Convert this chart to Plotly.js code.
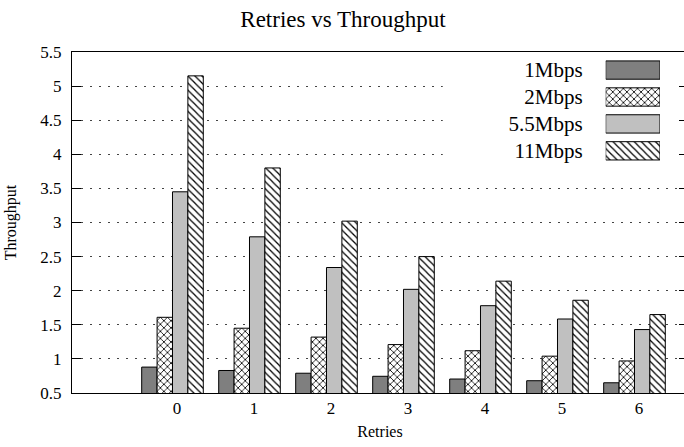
<!DOCTYPE html>
<html>
<head>
<meta charset="utf-8">
<script src="https://cdn.plot.ly/plotly-3.0.1.min.js"></script>
<style>
  html, body { margin: 0; padding: 0; background: #ffffff; overflow: hidden; }
  #chart { width: 688px; height: 447px; }
</style>
</head>
<body>
<div id="chart"></div>
<script>
// Retry counts on the x axis
const retries = ['0', '1', '2', '3', '4', '5', '6'];

// Throughput per data rate
const seriesNames = ['1Mbps', '2Mbps', '5.5Mbps', '11Mbps'];
const tput1 = [0.88, 0.83, 0.79, 0.745, 0.705, 0.68, 0.65];
const tput2 = [1.61, 1.45, 1.32, 1.21, 1.12, 1.04, 0.97];
const tput55 = [3.45, 2.79, 2.34, 2.02, 1.78, 1.585, 1.43];
const tput11 = [5.15, 3.80, 3.02, 2.50, 2.14, 1.86, 1.65];

// y axis ticks
const yTicks = [0.5, 1, 1.5, 2, 2.5, 3, 3.5, 4, 4.5, 5, 5.5];

const serif = 'Liberation Serif, Times New Roman, serif';
const xs = retries.map((_, i) => i);

// fill styles: solid dark grey, cross-hatch, solid light grey, back-slash hatch
const styles = [
  { color: '#7f7f7f' },
  { color: '#ffffff', pattern: { shape: 'x', fgcolor: '#000000', bgcolor: '#ffffff', size: 5, solidity: 0.3 } },
  { color: '#c0c0c0' },
  { color: '#ffffff', pattern: { shape: '\\', fgcolor: '#000000', bgcolor: '#ffffff', size: 5, solidity: 0.25 } }
];

const seriesValues = [tput1, tput2, tput55, tput11];

function markerFor(k) {
  const m = { color: styles[k].color, line: { color: '#000000', width: 1 } };
  if (styles[k].pattern) m.pattern = styles[k].pattern;
  return m;
}

const traces = seriesValues.map((vals, k) => ({
  type: 'bar',
  name: seriesNames[k],
  x: xs,
  y: vals,
  marker: markerFor(k),
  showlegend: false,
  hoverinfo: 'x+y+name'
}));

// key: one swatch per series, labels drawn as the key axis tick labels
seriesNames.forEach((name, k) => {
  traces.push({
    type: 'bar',
    orientation: 'h',
    xaxis: 'x2',
    yaxis: 'y2',
    y: [name],
    x: [1],
    width: 0.68,
    marker: markerFor(k),
    showlegend: false,
    hoverinfo: 'skip'
  });
});

const layout = {
  width: 688,
  height: 447,
  margin: { l: 72, r: 0, t: 52, b: 54 },
  paper_bgcolor: '#ffffff',
  plot_bgcolor: '#ffffff',
  barmode: 'group',
  bargap: 0.2,
  bargroupgap: 0,
  font: { family: serif, color: '#000000' },
  title: {
    text: 'Retries vs Throughput',
    font: { family: serif, size: 23, color: '#000000' },
    xref: 'container', x: 0.4985,
    yref: 'container', y: 0.958, yanchor: 'middle'
  },
  xaxis: {
    range: [-1.305, 6.695],
    tickmode: 'array',
    tickvals: xs.map(i => i + 0.06),
    ticktext: retries,
    ticks: '',
    ticklabelstandoff: 0,
    tickfont: { family: serif, size: 17, color: '#000000' },
    showgrid: false,
    zeroline: false,
    showline: true,
    mirror: true,
    linecolor: '#000000',
    linewidth: 1,
    title: { text: 'Retries', font: { family: serif, size: 16, color: '#000000' }, standoff: 8 }
  },
  yaxis: {
    range: [0.5, 5.5],
    tickmode: 'array',
    tickvals: yTicks,
    ticktext: yTicks.map(String),
    ticks: 'inside',
    ticklen: 9,
    tickcolor: '#000000',
    tickwidth: 1,
    ticklabelstandoff: 6,
    tickfont: { family: serif, size: 17, color: '#000000' },
    showgrid: true,
    gridcolor: '#444444',
    gridwidth: 1,
    griddash: '2px,7px',
    zeroline: false,
    showline: true,
    mirror: 'ticks',
    linecolor: '#000000',
    linewidth: 1,
    title: { text: 'Throughput', font: { family: serif, size: 16, color: '#000000' }, standoff: 19 }
  },
  xaxis2: {
    domain: [0.8664, 0.9545],
    anchor: 'y2',
    range: [0, 1],
    visible: false,
    fixedrange: true
  },
  yaxis2: {
    domain: [0.6707, 0.9865],
    anchor: 'x2',
    type: 'category',
    categoryorder: 'array',
    categoryarray: seriesNames,
    autorange: 'reversed',
    showgrid: false,
    zeroline: false,
    showline: false,
    ticks: '',
    ticklabelstandoff: 22,
    tickfont: { family: serif, size: 21, color: '#000000' },
    fixedrange: true
  },
  shapes: [{
    // blank area behind the key
    type: 'rect', xref: 'x', yref: 'y',
    x0: 3.51, x1: 6.8, y0: 3.77, y1: 5.6,
    fillcolor: '#ffffff', line: { width: 0 }, layer: 'between'
  }]
};

Plotly.newPlot('chart', traces, layout, { displayModeBar: false, staticPlot: true });
</script>
</body>
</html>
